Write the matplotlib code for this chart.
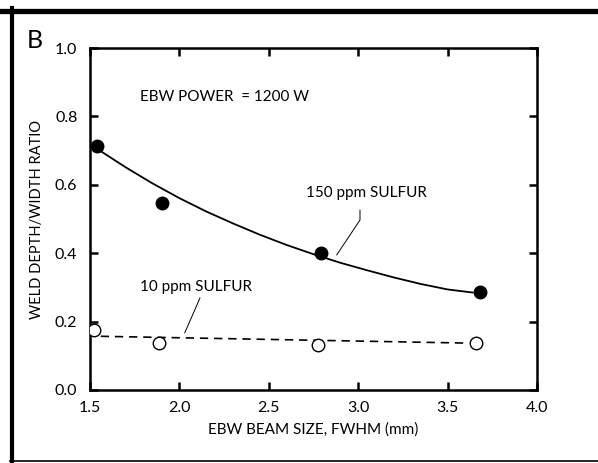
import matplotlib
matplotlib.use('Agg')
import matplotlib.pyplot as plt
from matplotlib.lines import Line2D

plt.rcParams['font.family'] = ['Lato', 'DejaVu Sans']

# 150 ppm sulfur (filled points)
beam_150 = [1.54, 1.90, 2.79, 3.68]
ratio_150 = [0.713, 0.547, 0.400, 0.287]
# fitted curve
curve_x = [1.567, 1.70, 1.85, 2.00, 2.15, 2.30, 2.45, 2.60, 2.75, 2.90,
           3.05, 3.20, 3.35, 3.50, 3.64]
curve_y = [0.696, 0.651, 0.604, 0.561, 0.522, 0.487, 0.454, 0.424, 0.397, 0.372,
           0.350, 0.329, 0.310, 0.294, 0.285]

# 10 ppm sulfur (open points)
beam_10 = [1.52, 1.885, 2.775, 3.66]
ratio_10 = [0.175, 0.137, 0.132, 0.137]
dash_x = [1.56, 3.62]
dash_y = [0.157, 0.137]

fig = plt.figure(figsize=(5.98, 4.63), dpi=100)
ax = fig.add_axes([0.1505, 0.1577, 0.7475, 0.7386])

ax.plot(curve_x, curve_y, color='black', lw=1.3, zorder=2)
ax.plot(beam_150, ratio_150, 'o', color='black', ms=9, zorder=3)
ax.plot(dash_x, dash_y, color='black', lw=1.2, linestyle=(0, (5, 3.5)), zorder=2)
ax.plot(beam_10, ratio_10, 'o', mfc='white', mec='black', mew=1.0, ms=9, zorder=3)

ax.set_xlim(1.5, 4.0)
ax.set_ylim(0.0, 1.0)
ax.set_xticks([1.5, 2.0, 2.5, 3.0, 3.5, 4.0])
ax.set_yticks([0.0, 0.2, 0.4, 0.6, 0.8, 1.0])
ax.set_xticklabels(['1.5', '2.0', '2.5', '3.0', '3.5', '4.0'])
ax.set_yticklabels(['0.0', '0.2', '0.4', '0.6', '0.8', '1.0'])
ax.tick_params(direction='in', length=6, width=1.8, labelsize=11.5,
               top=True, right=True)
ax.tick_params(axis='x', pad=8)
ax.tick_params(axis='y', pad=9)
for s in ax.spines.values():
    s.set_linewidth(1.8)

ax.set_xlabel('EBW BEAM SIZE, FWHM (mm)', fontsize=11, labelpad=5)
ax.set_ylabel('WELD DEPTH/WIDTH RATIO', fontsize=10.5, labelpad=8)

ax.text(1.78, 0.857, 'EBW POWER  = 1200 W', fontsize=11, va='center', ha='left')
ax.text(3.045, 0.576, '150 ppm SULFUR', fontsize=11, va='center', ha='center')
ax.plot([3.01, 3.01, 2.88], [0.526, 0.497, 0.395], color='black', lw=0.7)
ax.text(2.095, 0.30, '10 ppm SULFUR', fontsize=11, va='center', ha='center')
ax.plot([2.115, 2.03], [0.269, 0.167], color='black', lw=0.7)

fig.text(35 / 598, 1 - 40 / 463, 'B', fontsize=18, va='center', ha='center')

# outer frame
fig.add_artist(Line2D([0, 1], [1 - 10.5 / 463, 1 - 10.5 / 463], color='black', lw=3.8,
                      transform=fig.transFigure))
fig.add_artist(Line2D([12 / 598, 12 / 598], [1 - 8 / 463, 1 - 461 / 463], color='black', lw=3.0,
                      transform=fig.transFigure))
fig.add_artist(Line2D([10 / 598, 1], [1 - 461 / 463, 1 - 461 / 463], color='black', lw=1.2,
                      transform=fig.transFigure))

fig.savefig('out.png', dpi=100)
